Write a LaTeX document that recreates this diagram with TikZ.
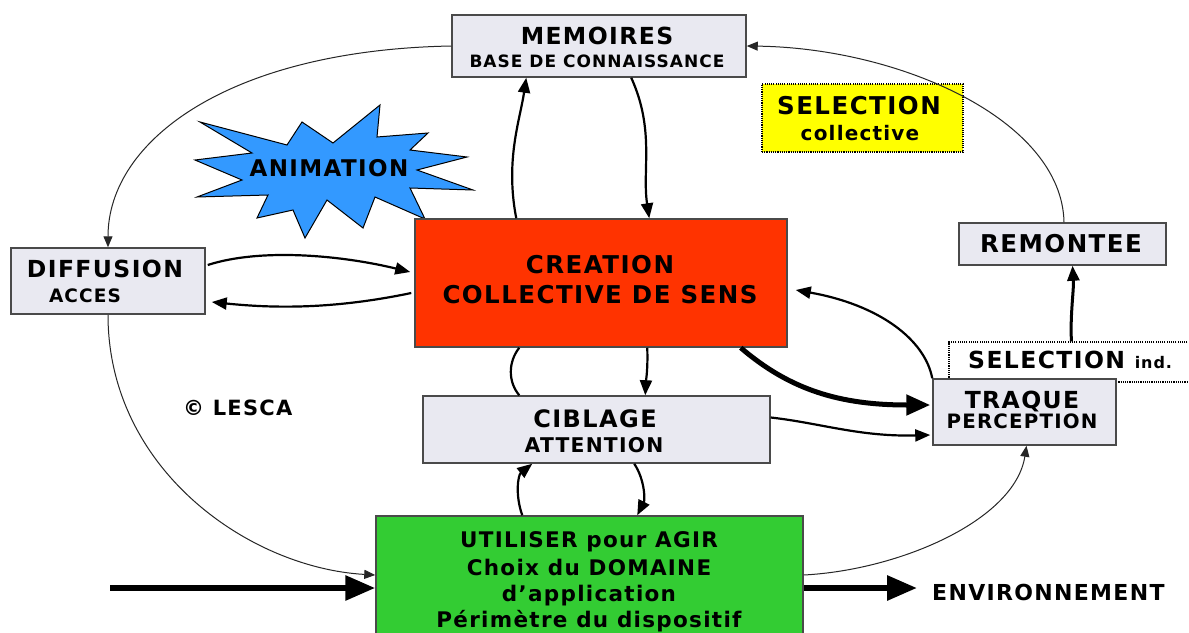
\documentclass[tikz,border=0pt]{standalone}
\usepackage{fontspec}
\setmainfont{DejaVu Sans}[LetterSpace=6]
\usetikzlibrary{arrows.meta,calc}

\definecolor{boxfill}{HTML}{E9E9F1}
\definecolor{boxedge}{HTML}{4A4A4A}
\definecolor{creared}{HTML}{FF3300}
\definecolor{actgreen}{HTML}{33CC33}
\definecolor{starblue}{HTML}{3399FF}
\definecolor{selyellow}{HTML}{FFFF00}

\tikzset{
  greybox/.style={draw=boxedge, line width=1.5pt, fill=boxfill, inner sep=0pt},
  colbox/.style={draw=boxedge, line width=1.5pt, fill=#1, inner sep=0pt},
  dotbox/.style={draw=black, line width=1.1pt, dash pattern=on 1.1pt off 1.1pt, inner sep=0pt},
  lbl/.style={anchor=base, inner sep=0pt, font=\bfseries\fontsize{#1}{#1}\selectfont},
  lblw/.style={anchor=base west, inner sep=0pt, font=\bfseries\fontsize{#1}{#1}\selectfont},
  thinlink/.style={draw=black!85, line width=1pt, -{Triangle[length=11pt,width=9pt]}},
  thinline/.style={draw=black!85, line width=1pt},
  medlink/.style={draw=black, line width=2.2pt, -{Triangle[length=15pt,width=12pt]}},
  medline/.style={draw=black, line width=2.2pt},
  heavylink/.style={draw=black, line width=5pt, -{Triangle[length=24pt,width=20pt]}},
  biglink/.style={draw=black, line width=6pt, -{Triangle[length=30pt,width=24pt]}},
}

\begin{document}
\begin{tikzpicture}[x=1pt, y=-1pt]
\useasboundingbox[fill=white] (0,0) rectangle (1189,632);

% burst behind the animation label
\filldraw[fill=starblue, draw=black, line width=1pt]
  (200,122) -- (287,145) -- (302,122) -- (333,143) -- (380,105) -- (377,137)
  -- (428,133) -- (410,150) -- (467,157) -- (417,170) -- (473,190) -- (410,188)
  -- (425,219) -- (375,197) -- (363,228) -- (327,200) -- (305,238) -- (293,210)
  -- (257,218) -- (268,195) -- (197,197) -- (242,180) -- (195,160) -- (252,153)
  -- cycle;
\node[lbl=23] (animT) at (329,176) {ANIMATION};

% boxes
\node[greybox, minimum width=294pt, minimum height=62pt] (mem) at (599,46) {};
\node[colbox=selyellow, dotbox, minimum width=201pt, minimum height=68pt] (selc) at (862.5,118) {};
\node[greybox, minimum width=194pt, minimum height=66pt] (diff) at (108,281) {};
\node[colbox=creared, minimum width=372pt, minimum height=128pt] (crea) at (601,283) {};
\node[greybox, minimum width=207pt, minimum height=42pt] (remo) at (1062.5,244) {};
\node[dotbox, fill=white, minimum width=251pt, minimum height=40pt] (seli) at (1074.5,362) {};
\node[greybox, minimum width=183pt, minimum height=66pt] (traq) at (1024.5,412) {};
\node[greybox, minimum width=347pt, minimum height=67pt] (cibl) at (596.5,429.5) {};
\node[colbox=actgreen, minimum width=427pt, minimum height=134pt] (util) at (589.5,583) {};

% labels
\node[lbl=23.5] (memT) at (597,44) {MEMOIRES};
\node[lbl=17] (memS) at (597,67) {BASE DE CONNAISSANCE};
\node[lbl=24.5] (selcT) at (859,114) {SELECTION};
\node[lbl=20] (selcS) at (860,140) {collective};
\node[lbl=23.5] (diffT) at (105,277) {DIFFUSION};
\node[lbl=18.5] (diffS) at (85,302) {ACCES};
\node[lbl=24.5] (creaT) at (600,273) {CREATION};
\node[lbl=24.5] (creaS) at (600,303) {COLLECTIVE DE SENS};
\node[lbl=24.5] (remoT) at (1061,252) {REMONTEE};
\node[lblw=23.5] (seliT) at (968,368) {SELECTION {\fontsize{16}{16}\selectfont ind.}};
\node[lbl=23.5] (traqT) at (1022,408) {TRAQUE};
\node[lbl=19.8] (traqS) at (1022,428) {PERCEPTION};
\node[lbl=24] (ciblT) at (595,427) {CIBLAGE};
\node[lbl=20.3] (ciblS) at (594,452) {ATTENTION};
\node[lbl=21.5] (utilA) at (589,547) {UTILISER pour AGIR};
\node[lbl=21.5] (utilB) at (589,575) {Choix du DOMAINE};
\node[lbl=21.5] (utilC) at (589,601) {d’application};
\node[lbl=21.5] (utilD) at (589,627) {Périmètre du dispositif};
\node[lblw=21] (lesca) at (183,415) {© LESCA};
\node[lblw=22] (envT) at (932,600) {ENVIRONNEMENT};

\coordinate (inp) at (110,588);
\coordinate (outp) at (917,588);

% outer loop
\draw[thinlink] ($(remo.north)+(1.5,0)$) .. controls (1062,120) and (900,48) .. (mem.east);
\draw[thinlink] (mem.west) .. controls (230,50) and (108,140) .. (diff.north);
\draw[thinlink] (diff.south) .. controls (108,470) and (250,568) .. ($(util.west)+(0,-8)$);
\draw[thinlink] ($(util.east)+(0,-8)$) .. controls (900,570) and (1015,520) .. ($(traq.south)+(2,0)$);

% memory exchanges
\draw[medlink] ($(crea.north west)+(102,0)$) .. controls (505,160) and (520,120) .. ($(mem.south west)+(75,0)$);
\draw[medlink] ($(mem.south west)+(180,0)$) .. controls (655,130) and (642,170) .. ($(crea.north west)+(235,0)$);

% diffusion exchanges
\draw[medlink] ($(diff.east)+(2,-16)$) .. controls (260,248) and (340,255) .. ($(crea.west)+(-4,-11)$);
\draw[medlink] ($(crea.west)+(-3,10)$) .. controls (330,310) and (270,308) .. ($(diff.east)+(6,21)$);

% creation and targeting
\draw[medline] ($(crea.south west)+(105,0)$) .. controls (508,362) and (508,382) .. ($(cibl.north west)+(97,0)$);
\draw[medlink] ($(crea.south west)+(233,0)$) .. controls (648,370) and (646,380) .. ($(cibl.north west)+(223,0)$);
\draw[heavylink] ($(crea.south east)+(-47,0)$) .. controls (790,390) and (840,405) .. ($(traq.west)+(-2,-7)$);
\draw[medlink] ($(cibl.east)+(0,-12)$) .. controls (820,423) and (860,437) .. ($(traq.west)+(-2,23)$);
\draw[medlink] (traq.north west) .. controls (925,340) and (880,305) .. ($(crea.east)+(8,7)$);
\draw[medlink, line width=3pt] ($(seli.north west)+(123,0)$) .. controls (1070,315) and (1074,290) .. ($(remo.south)+(10,0)$);

% targeting and action
\draw[medlink] ($(util.north west)+(147,0)$) .. controls (515,495) and (518,475) .. ($(cibl.south west)+(110,0)$);
\draw[medlink] ($(cibl.south west)+(212,0)$) .. controls (645,480) and (645,500) .. ($(util.north west)+(262,0)$);

% input and output
\draw[biglink] (inp) -- ($(util.west)+(0,5)$);
\draw[biglink] ($(util.east)+(0,5)$) -- (outp);
\end{tikzpicture}
\end{document}
